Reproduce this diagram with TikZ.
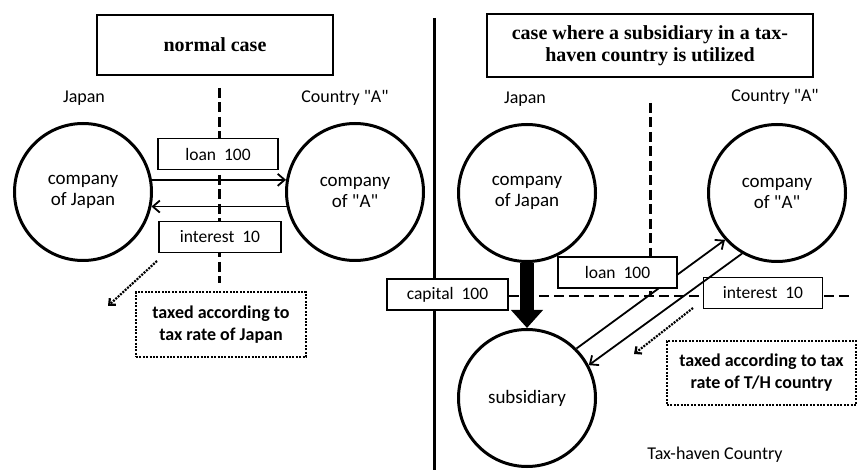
\documentclass[tikz,border=0pt]{standalone}
\usepackage{fontspec}
\setmainfont{Carlito}[Ligatures=TeXOff]
\newfontfamily\headfont{Liberation Serif}
\usetikzlibrary{arrows.meta}
\newcommand{\gap}{\hspace{0.45em}}

\begin{document}
\begin{tikzpicture}[x=1pt,y=-1pt,
  every node/.style={font=\fontsize{18}{21}\selectfont},
  party/.style={circle, draw, line width=3pt, minimum size=137pt, inner sep=0pt, align=center,
    font=\fontsize{19}{21}\selectfont},
  headbox/.style={draw, line width=2.5pt, fill=white, align=center,
    font=\headfont\bfseries\fontsize{20}{21.5}\selectfont},
  flowbox/.style={draw, line width=1.5pt, fill=white, minimum height=31pt, inner sep=0pt,
    font=\fontsize{17.5}{20}\selectfont},
  notebox/.style={draw, line width=2.2pt, dash pattern=on 2pt off 1.4pt, fill=white,
    align=center, inner sep=0pt, font=\bfseries\fontsize{18}{22}\selectfont},
  border/.style={line width=3pt, dash pattern=on 10pt off 4.5pt},
  flow/.style={line width=1.8pt, -{Straight Barb[length=7pt,width=12pt]}},
  pointer/.style={line width=2.2pt, dash pattern=on 2pt off 1.2pt,
    -{Straight Barb[length=5pt,width=9pt]}}
]
\useasboundingbox (0,0) rectangle (857,470);

% ---------- left half: normal case ----------
\node[headbox, minimum width=236pt, minimum height=60pt] (t1) at (215,45) {normal case};
\node (jp1) at (84,98) {Japan};
\node (ca1) at (345,98) {Country "A"};

\coordinate (b1top) at (219,88);
\coordinate (b1bot) at (219,283);
\draw[border] (b1top) -- (b1bot);

\node[party] (lj) at (83,192) {company\\of Japan};
\node[party] (la) at (355,192) {company\\of "A"};

\draw[flow] (lj.10) -- (la.170);
\draw[flow] (la.192.5) -- (lj.-12.5);

\node[flowbox, minimum width=120pt] (loan1) at (218,154) {loan\gap 100};
\node[flowbox, minimum width=122pt] (int1) at (220,237) {interest\gap 10};

\node[notebox, minimum width=170pt, minimum height=65pt] (tax1) at (221,324.5)
  {taxed according to\\tax rate of Japan};
\coordinate (p1s) at (157,261);
\coordinate (p1e) at (108,306);
\draw[pointer] (p1s) -- (p1e);

% ---------- divider ----------
\coordinate (dtop) at (434,18);
\coordinate (dbot) at (434,470);
\draw[line width=3pt] (dtop) -- (dbot);

% ---------- right half: tax-haven subsidiary ----------
\node[headbox, minimum width=326pt, minimum height=63pt] (t2) at (650,45.5)
  {case where a subsidiary in a tax-\\haven country is utilized};
\node (jp2) at (525,99) {Japan};
\node (ca2) at (775,97) {Country "A"};
\node (th) at (715,455) {Tax-haven Country};

\node[party] (rj) at (527,193) {company\\of Japan};
\node[party] (ra) at (777,193) {company\\of "A"};
\node[party] (sub) at (527,398) {subsidiary};

\coordinate (b2top) at (650,103);
\coordinate (b2bot) at (650,296);
\draw[border] (b2top) -- (b2bot);

\node[flowbox, minimum width=121pt] (cap) at (447.5,294.5) {capital\gap 100};
\coordinate (hend) at (849,296);
\draw[line width=2.2pt, dash pattern=on 10pt off 5pt] (cap.east |- hend) -- (hend);

\draw[flow] (sub.45) -- (ra.222);
\node[flowbox, minimum width=119pt] (loan2) at (617.5,272.5) {loan\gap 100};
\node[flowbox, minimum width=119pt] (int2) at (763,293) {interest\gap 10};
\draw[flow] (ra.240) -- (sub.28);

\draw[line width=14pt, -{Triangle[length=18pt,width=31pt]}] (rj.south) -- (sub.north);

\node[notebox, minimum width=189pt, minimum height=64pt] (tax2) at (761.5,373)
  {taxed according to tax\\rate of T/H country};
\coordinate (p2s) at (693,308);
\coordinate (p2e) at (634,354);
\draw[pointer] (p2s) -- (p2e);
\end{tikzpicture}
\end{document}
